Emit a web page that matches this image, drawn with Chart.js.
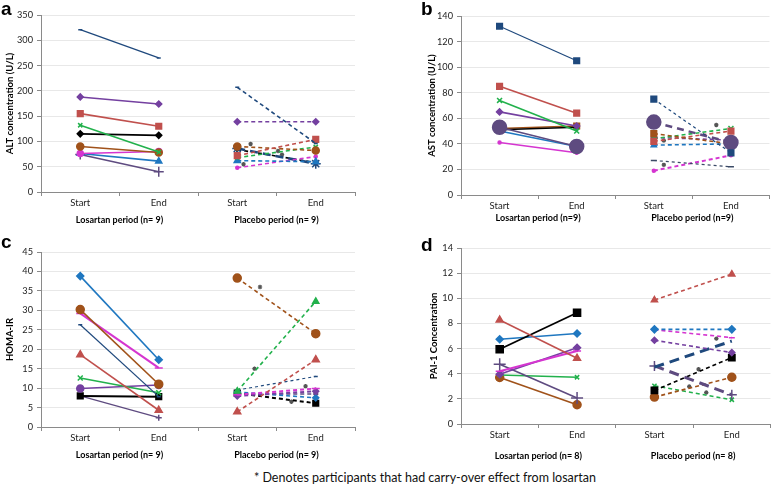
<!DOCTYPE html>
<html><head><meta charset="utf-8">
<script src="https://cdn.jsdelivr.net/npm/chart.js@4/dist/chart.umd.min.js"></script>
<style>
body{margin:0;background:#fff;width:778px;height:491px;position:relative;overflow:hidden;}
.pan{position:absolute;}
.lt{position:absolute;font:bold 19px 'Liberation Sans', Arial, sans-serif;line-height:19px;color:#000;}
#note{position:absolute;left:225px;width:400px;top:470px;text-align:center;font:12.5px Lato,'Liberation Sans',sans-serif;line-height:16px;color:#111;white-space:nowrap;}
</style></head>
<body>
<canvas id="ca" class="pan"></canvas>
<canvas id="cb" class="pan"></canvas>
<canvas id="cc" class="pan"></canvas>
<canvas id="cd" class="pan"></canvas>
<div class="lt" style="left:1px;top:-1px">a</div>
<div class="lt" style="left:421px;top:-1px">b</div>
<div class="lt" style="left:1px;top:232px">c</div>
<div class="lt" style="left:421px;top:235px">d</div>
<div id="note">* Denotes participants that had carry-over effect from losartan</div>
<script>
// ---------- shared labels ----------
const CATS = ['Start', 'End', 'Start', 'End'];

// ---------- panel a : ALT ----------
const aGroups = ['Losartan period (n= 9)', 'Placebo period (n= 9)'];
const aTitle = 'ALT concentration (U/L)';
const aLosStart = [321, 188, 155, 132, 115, 90, 76, 76, 74];
const aLosEnd   = [265, 174, 130, 79, 112, 78, 80, 61, 40];
const aPlaStart = [207, 139, 72, 90, 68, 62, 48, 86, 84];
const aPlaEnd   = [96, 139, 104, 82, 89, 60, 70, 56, 58];
const aStarX = [2.08, 2.17, 2.52, 2.57];
const aStarY = [55, 95, 81, 74];

// ---------- panel b : AST ----------
const bGroups = ['Losartan period (n=9)', 'Placebo period (n=9)'];
const bTitle = 'AST concentration (U/L)';
const bLosStart = [132, 85, 74, 65, 53, 51, 52, 50, 41];
const bLosEnd   = [105, 64, 50, 54, 38, 53, 54, 38, 33];
const bPlaStart = [75, 57, 48, 42, 44, 39, 45, 27, 19];
const bPlaEnd   = [33, 41, 40, 50, 52, 40, 43, 22, 31];
const bStarX = [2.13, 2.13, 2.81];
const bStarY = [42.6, 23.6, 54.8];

// ---------- panel c : HOMA-IR ----------
const cGroups = ['Losartan period (n= 9)', 'Placebo period (n= 9)'];
const cTitle = 'HOMA-IR';
const cLosStart = [38.8, 30.2, 29.2, 26.3, 18.6, 12.6, 9.9, 8.0, 8.0];
const cLosEnd   = [17.3, 11.0, 15.2, 7.8, 4.3, 8.8, 10.8, 7.8, 2.4];
const cPlaStart = [38.3, 9.2, 3.9, 9.5, 8.3, 8.0, 9.0, 8.7, 8.5];
const cPlaEnd   = [24.0, 32.3, 17.3, 13.0, 9.9, 9.2, 7.5, 6.1, 8.5];
const cStarX = [2.29, 2.22, 2.87, 2.69];
const cStarY = [36, 15, 10.5, 6.5];

// ---------- panel d : PAI-1 ----------
const dGroups = ['Losartan period (n= 8)', 'Placebo period (n= 8)'];
const dTitle = 'PAI-1 Concentration';
const dLosStart = [8.27, 5.95, 6.74, 4.2, 3.96, 4.76, 3.9, 3.7];
const dLosEnd   = [5.23, 8.85, 7.2, 5.8, 6.07, 2.06, 3.72, 1.53];
const dPlaStart = [9.86, 7.53, 7.5, 6.66, 4.52, 4.62, 2.67, 2.14, 3.04];
const dPlaEnd   = [11.92, 7.53, 6.87, 5.68, 6.6, 2.32, 5.28, 3.72, 1.93];
const dStarX = [2.45, 2.57, 2.67, 2.8];
const dStarY = [2.98, 4.36, 2.5, 6.79];

// ---------- styles ----------
const C = {navy:'#1F497D', purple:'#7440A0', red:'#C0504D', green:'#22B14C', black:'#000000',
  brown:'#A0521A', magenta:'#D535D0', blue:'#1F77C0', plum:'#5E4B80', slate:'#3B4A66'};
function st(c, ps, r, extra){ return Object.assign({c:C[c], ps, r}, extra||{}); }
const FONT = "Lato, 'Liberation Sans', sans-serif";

const aLosSt = [st('navy','line',2,{w:1.3}), st('purple','rectRot',3), st('red','rect',4), st('green','crossRot',3),
  st('black','rectRot',3), st('brown','circle',3.5), st('magenta','circle',3), st('blue','triangle',3.5), st('plum','cross',5)];
const aPlaSt = [st('navy','line',2), st('purple','rectRot',3), st('red','rect',4), st('brown','circle',3.5), st('green','crossRot',3),
  st('blue','triangle',3.5), st('magenta','circle',1.5), st('navy','star',5,{w:2.6,dash:[8,5]}), st('black','rectRot',2)];

const bLosSt = [st('navy','rect',4,{w:1.2}), st('red','rect',4), st('green','crossRot',3.5), st('purple','rectRot',3),
  st('plum','circle',7), st('black','circle',1.5), st('brown','rect',4), st('blue','triangle',3), st('magenta','circle',1.5)];
const bPlaSt = [st('navy','rect',4,{w:1.2,dash:[3,3]}), st('plum','circle',7,{w:2.5,dash:[7,5]}), st('brown','rect',4), st('red','rect',4),
  st('green','crossRot',3.5), st('blue','triangle',3), st('purple','rectRot',2.5), st('slate','line',3,{w:1.2,dash:[3,3]}), st('magenta','circle',1.5,{w:2})];

const cLosSt = [st('blue','rectRot',3.5), st('brown','circle',4), st('magenta','line',4,{w:2}), st('navy','line',2,{w:1.2}),
  st('red','triangle',4), st('green','crossRot',3.5), st('purple','circle',3.5), st('black','rect',4,{w:2}), st('plum','cross',3,{w:1.2})];
const cPlaSt = [st('brown','circle',4), st('green','triangle',3.5), st('red','triangle',4), st('navy','line',2,{w:1.2,dash:[3,3]}),
  st('magenta','line',4,{w:2}), st('purple','rectRot',3,{w:2}), st('blue','rectRot',3), st('black','rect',4,{w:2}), st('plum','rectRot',2)];

const dLosSt = [st('red','triangle',4), st('black','rect',5,{w:1.8}), st('blue','rectRot',3.5), st('magenta','line',4,{w:2}),
  st('purple','rectRot',3.5), st('plum','cross',6), st('green','crossRot',3), st('brown','circle',4)];
const dPlaSt = [st('red','triangle',3.5), st('blue','rectRot',3.5), st('magenta','line',3), st('purple','rectRot',3),
  st('navy','triangle',0,{w:3,dash:[10,6]}), st('plum','cross',5,{w:3,dash:[10,6]}), st('black','rect',4.5), st('brown','circle',4), st('green','crossRot',3)];

function lineDs(s, e, style, placebo){
  return {
    data: placebo ? [null, null, s, e] : [s, e, null, null],
    xAxisID:'x', yAxisID:'y',
    borderColor: style.c, backgroundColor: style.c,
    pointStyle: style.ps, pointRadius: style.r, pointBorderWidth: 1.5,
    pointBorderColor: style.c, pointBackgroundColor: style.c,
    borderWidth: style.w || 1.6,
    borderDash: placebo ? (style.dash || [4, 3]) : [],
    spanGaps: false, tension: 0
  };
}
function starDs(xs, ys){
  return {data: xs.map((x, i) => ({x, y: ys[i]})), xAxisID:'xs', yAxisID:'y', showLine:false,
    pointStyle:'star', pointRadius:2.2, pointBorderWidth:1.2, borderColor:'#555', backgroundColor:'#555'};
}

function makePanel(id, box, area, yMax, yStep, yTitle, groups, los, pla, stars, padX, padG){
  const cv = document.getElementById(id);
  cv.width = box.w; cv.height = box.h;
  cv.style.left = box.left + 'px'; cv.style.top = box.top + 'px';
  cv.style.width = box.w + 'px'; cv.style.height = box.h + 'px';
  const yw = area.l - box.left, hx = 18, h2 = box.top + box.h - area.b - hx;
  const datasets = [];
  los[0].forEach((v, i) => datasets.push(lineDs(v, los[1][i], los[2][i], false)));
  pla[0].forEach((v, i) => datasets.push(lineDs(v, pla[1][i], pla[2][i], true)));
  datasets.push(starDs(stars[0], stars[1]));
  new Chart(cv, {
    type:'line',
    data:{labels: CATS, datasets},
    options:{
      responsive:false, animation:false, devicePixelRatio:1,
      layout:{padding:{left:0, top: area.t - box.top, right: box.left + box.w - area.r, bottom:0}},
      plugins:{legend:{display:false}, tooltip:{enabled:false}},
      scales:{
        x:{type:'category', labels:CATS, offset:true, position:'bottom', weight:0,
          grid:{display:true, drawOnChartArea:false, offset:true, tickLength:4, tickColor:'#8a8a8a', color:'#8a8a8a'},
          border:{display:true, color:'#8a8a8a'},
          ticks:{font:{family:FONT, size:9.5}, color:'#222', padding:padX, maxRotation:0, autoSkip:false},
          afterFit: s => { s.height = hx; }},
        x2:{type:'category', labels:groups, offset:true, position:'bottom', weight:1,
          grid:{display:false, drawTicks:false, tickLength:0}, border:{display:false},
          ticks:{font:{family:FONT, size:9, weight:'bold'}, color:'#000', padding:padG, maxRotation:0, autoSkip:false},
          afterFit: s => { s.height = h2; }},
        xs:{type:'linear', display:false, min:-0.5, max:3.5},
        y:{min:0, max:yMax,
          ticks:{stepSize:yStep, font:{family:FONT, size:9.2}, color:'#222', padding:4},
          grid:{color:'#e8e8e8', tickColor:'#8a8a8a', tickLength:4},
          border:{color:'#8a8a8a'},
          title:{display:true, text:yTitle, font:{family:FONT, size:9.5, weight:'bold'}, color:'#000', padding:{top:4, bottom:0}},
          afterFit: s => { s.width = yw; }}
      }
    }
  });
}

makePanel('ca', {left:0, top:0, w:362, h:230}, {l:41, t:15, r:355, b:192}, 350, 50, aTitle, aGroups,
  [aLosStart, aLosEnd, aLosSt], [aPlaStart, aPlaEnd, aPlaSt], [aStarX, aStarY], 1, 5);
makePanel('cb', {left:422, top:0, w:356, h:232}, {l:461, t:16, r:776, b:195}, 140, 20, bTitle, bGroups,
  [bLosStart, bLosEnd, bLosSt], [bPlaStart, bPlaEnd, bPlaSt], [bStarX, bStarY], 1, 0);
makePanel('cc', {left:0, top:240, w:362, h:228}, {l:41, t:252, r:355, b:427}, 45, 5, cTitle, cGroups,
  [cLosStart, cLosEnd, cLosSt], [cPlaStart, cPlaEnd, cPlaSt], [cStarX, cStarY], 1, 5);
makePanel('cd', {left:424, top:236, w:354, h:232}, {l:461, t:248, r:776, b:424}, 14, 2, dTitle, dGroups,
  [dLosStart, dLosEnd, dLosSt], [dPlaStart, dPlaEnd, dPlaSt], [dStarX, dStarY], 1, 9);
</script>
</body></html>
